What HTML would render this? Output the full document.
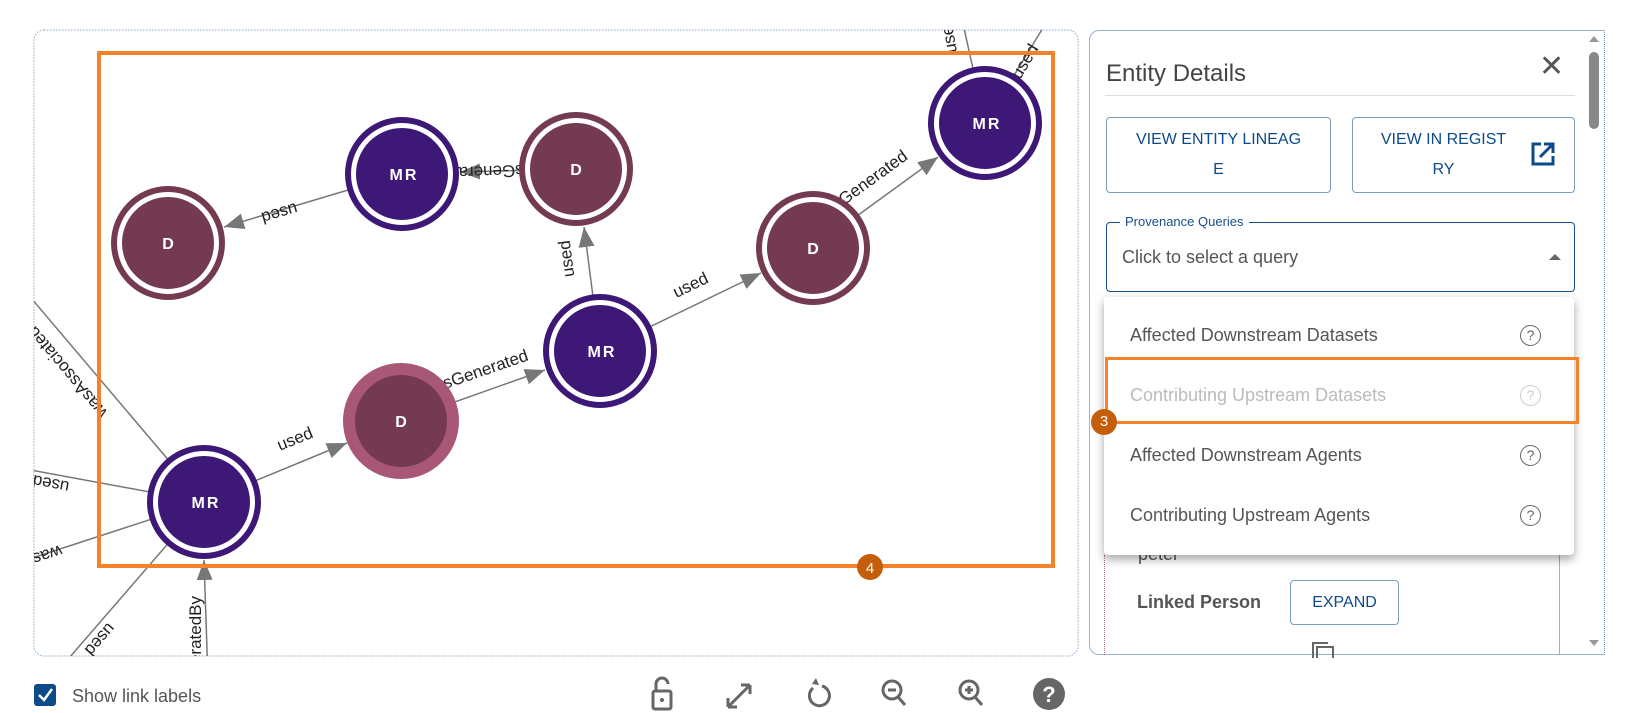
<!DOCTYPE html>
<html><head><meta charset="utf-8"><style>
body{margin:0;width:1626px;height:713px;background:#fff;font-family:"Liberation Sans",sans-serif;position:relative;overflow:hidden}
.abs{position:absolute}
.btn{position:absolute;border:1px solid #7a9cc0;border-radius:4px;color:#0d4a8a;font-size:16px;text-align:center;line-height:30px;box-sizing:border-box}
.item{position:absolute;left:1130px;font-size:18px;color:#555}
.q{position:absolute;left:1520px;width:19px;height:19px;border:1.8px solid #666;border-radius:50%;font-size:14px;line-height:19px;text-align:center;color:#666}
</style></head><body>
<svg class="abs" style="left:0;top:0" width="1090" height="713">
<defs>
<clipPath id="c"><rect x="34" y="30" width="1044" height="626" rx="10"/></clipPath>
<marker id="ar" markerUnits="userSpaceOnUse" markerWidth="22" markerHeight="18" refX="20" refY="8" orient="auto"><path d="M0,0 L20,8 L0,16 z" fill="#777"/></marker>
</defs>
<rect x="34" y="30" width="1044" height="626" rx="10" fill="#fff" stroke="#8aa8c8" stroke-dasharray="1.5 1.5"/>
<g clip-path="url(#c)" stroke="#777" stroke-width="1.5" fill="none">
<line x1="204" y1="502" x2="347" y2="443" marker-end="url(#ar)"/>
<line x1="401" y1="421" x2="545" y2="370" marker-end="url(#ar)"/>
<line x1="600" y1="351" x2="584" y2="227" marker-end="url(#ar)"/>
<line x1="600" y1="351" x2="761" y2="273" marker-end="url(#ar)"/>
<line x1="813" y1="248" x2="938" y2="157" marker-end="url(#ar)"/>
<line x1="576" y1="169" x2="460" y2="172" marker-end="url(#ar)"/>
<line x1="402" y1="174" x2="224" y2="227" marker-end="url(#ar)"/>
<line x1="208" y1="680" x2="204" y2="560" marker-end="url(#ar)"/>
<line x1="20" y1="285" x2="204" y2="502"/>
<line x1="20" y1="468" x2="204" y2="502"/>
<line x1="20" y1="562" x2="204" y2="502"/>
<line x1="50" y1="680" x2="204" y2="502"/>
<line x1="960" y1="10" x2="985" y2="123"/>
<line x1="1060" y1="0" x2="985" y2="123"/>
</g>
<g clip-path="url(#c)" font-family="Liberation Sans, sans-serif" font-size="17" fill="#222">
<text transform="translate(297,444) rotate(-22)" text-anchor="middle">used</text>
<text transform="translate(477,378) rotate(-19)" text-anchor="middle">wasGenerated</text>
<text transform="translate(572,258) rotate(-97.5)" text-anchor="middle">used</text>
<text transform="translate(693,290) rotate(-26)" text-anchor="middle">used</text>
<text transform="translate(864,191) rotate(-36)" text-anchor="middle">wasGenerated</text>
<text transform="translate(490,166) rotate(178)" text-anchor="middle">wasGenerated</text>
<text transform="translate(278,208) rotate(163.5)" text-anchor="middle">used</text>
<text transform="translate(108,412) rotate(-130)" text-anchor="start">wasAssociatedWith</text>
<text transform="translate(70,482) rotate(-169)" text-anchor="start">used</text>
<text transform="translate(60,545) rotate(162)" text-anchor="start">wasAssociatedWith</text>
<text transform="translate(108,622) rotate(131)" text-anchor="start">used</text>
<text transform="translate(201,596) rotate(-90)" text-anchor="end">wasGeneratedBy</text>
<text transform="translate(957,52) rotate(-100)" text-anchor="start">used</text>
<text transform="translate(1020,80) rotate(-59)" text-anchor="start">used</text>
</g>
<g font-family="Liberation Sans, sans-serif" font-weight="bold" font-size="16" fill="#fff" text-anchor="middle" letter-spacing="2">
<g><circle cx="985" cy="123" r="57" fill="#3d1877"/><circle cx="985" cy="123" r="48.5" fill="none" stroke="#fff" stroke-width="5"/><text x="987" y="129">MR</text></g>
<g><circle cx="402" cy="174" r="57" fill="#3d1877"/><circle cx="402" cy="174" r="48.5" fill="none" stroke="#fff" stroke-width="5"/><text x="404" y="180">MR</text></g>
<g><circle cx="600" cy="351" r="57" fill="#3d1877"/><circle cx="600" cy="351" r="48.5" fill="none" stroke="#fff" stroke-width="5"/><text x="602" y="357">MR</text></g>
<g><circle cx="204" cy="502" r="57" fill="#3d1877"/><circle cx="204" cy="502" r="48.5" fill="none" stroke="#fff" stroke-width="5"/><text x="206" y="508">MR</text></g>
<g><circle cx="576" cy="169" r="57" fill="#733a51"/><circle cx="576" cy="169" r="48.5" fill="none" stroke="#fff" stroke-width="5"/><text x="577" y="175">D</text></g>
<g><circle cx="168" cy="243" r="57" fill="#733a51"/><circle cx="168" cy="243" r="48.5" fill="none" stroke="#fff" stroke-width="5"/><text x="169" y="249">D</text></g>
<g><circle cx="813" cy="248" r="57" fill="#733a51"/><circle cx="813" cy="248" r="48.5" fill="none" stroke="#fff" stroke-width="5"/><text x="814" y="254">D</text></g>
<g><circle cx="401" cy="421" r="58" fill="#a85876"/><circle cx="401" cy="421" r="46" fill="#733a51"/><text x="402" y="427">D</text></g>
</g>
<rect x="99" y="53" width="954" height="513" fill="none" stroke="#f5822a" stroke-width="4"/>
<circle cx="870" cy="567" r="13" fill="#c45e0a"/>
<text x="870" y="573" font-family="Liberation Sans, sans-serif" font-size="15" fill="#fff" text-anchor="middle">4</text>
<rect x="34" y="684" width="22" height="22" rx="3" fill="#0d4a8a"/>
<path d="M39,695 L44,700 L52,689" stroke="#fff" stroke-width="2.5" fill="none"/>
<text x="72" y="702" font-family="Liberation Sans, sans-serif" font-size="18" fill="#555">Show link labels</text>
<g fill="none" stroke="#666" stroke-width="3">
<rect x="653" y="691" width="18" height="18" rx="2"/><path d="M656,691 v-7 a6,6 0 0 1 12,0"/>
<path d="M728,707 L750,685 M728,707 v-9 M728,707 h9 M750,685 v9 M750,685 h-9"/>
<path d="M822,686 a10,10 0 1 1 -9,2"/>
<circle cx="892" cy="690" r="9"/><path d="M898,697 l7,8 M888,690 h8"/>
<circle cx="969" cy="690" r="9"/><path d="M975,697 l7,8 M965,690 h8 M969,686 v8"/>
</g>
<path d="M812,684 l4,-6 l3,7 z" fill="#666"/>
<circle cx="662" cy="700" r="2" fill="#666"/>
<circle cx="1049" cy="694" r="16" fill="#666"/>
<text x="1049" y="702" font-family="Liberation Sans, sans-serif" font-weight="bold" font-size="22" fill="#fff" text-anchor="middle">?</text>
</svg>

<div class="abs" style="left:1089px;top:30px;width:516px;height:625px;border:1px solid #9ab4cc;border-right:1px dotted #6a8fb5;border-radius:10px 0 0 10px;box-sizing:border-box"></div>
<div class="abs" style="left:1106px;top:60px;font-size:24px;color:#444">Entity Details</div>
<div class="abs" style="left:1539px;top:52px;font-size:30px;color:#555;line-height:30px">✕</div>
<div class="abs" style="left:1105px;top:95px;width:470px;height:1px;background:#ddd"></div>
<div class="btn" style="left:1106px;top:117px;width:225px;height:76px;padding-top:7px">VIEW ENTITY LINEAG<br>E</div>
<div class="btn" style="left:1352px;top:117px;width:223px;height:76px;padding-top:7px;padding-right:40px">VIEW IN REGIST<br>RY</div>
<svg class="abs" style="left:1530px;top:141px" width="26" height="26"><path d="M11,3 H3 V23 H23 V15" stroke="#0d4a8a" stroke-width="3" fill="none"/><path d="M10,16 L23,3 M14,3 H23 V12" stroke="#0d4a8a" stroke-width="3" fill="none"/></svg>
<div class="abs" style="left:1106px;top:222px;width:469px;height:70px;border:1.5px solid #1b4d89;border-radius:4px;box-sizing:border-box"></div>
<div class="abs" style="left:1120px;top:214px;background:#fff;padding:0 5px;font-size:13px;color:#1b4d89">Provenance Queries</div>
<div class="abs" style="left:1122px;top:247px;font-size:18px;color:#555">Click to select a query</div>
<div class="abs" style="left:1549px;top:254px;width:0;height:0;border-left:6px solid transparent;border-right:6px solid transparent;border-bottom:6px solid #666"></div>
<div class="abs" style="left:1138px;top:544px;font-size:18px;color:#555">peter</div>
<div class="abs" style="left:1137px;top:592px;font-size:18px;color:#555;font-weight:bold">Linked Person</div>
<div class="btn" style="left:1290px;top:580px;width:109px;height:45px;line-height:43px">EXPAND</div>
<div class="abs" style="left:1312px;top:642px;width:14px;height:14px;border:2px solid #666;border-bottom:none;border-right:none"></div>
<div class="abs" style="left:1316px;top:646px;width:14px;height:10px;border:2px solid #666;border-bottom:none"></div>
<div class="abs" style="left:1104px;top:555px;width:0;height:100px;border-left:1px dotted #b07080"></div>
<div class="abs" style="left:1559px;top:555px;width:0;height:100px;border-left:1px solid #c8a0a8"></div>
<div class="abs" style="left:1104px;top:297px;width:470px;height:258px;background:#fff;border-radius:4px;box-shadow:0 5px 8px rgba(0,0,0,0.25),0 2px 14px rgba(0,0,0,0.12)"></div>
<div class="item" style="top:325px">Affected Downstream Datasets</div><div class="q" style="top:325px">?</div>
<div class="item" style="top:385px;color:#bbb">Contributing Upstream Datasets</div><div class="q" style="top:385px;border-color:#ccc;color:#ccc">?</div>
<div class="item" style="top:445px">Affected Downstream Agents</div><div class="q" style="top:445px">?</div>
<div class="item" style="top:505px">Contributing Upstream Agents</div><div class="q" style="top:505px">?</div>
<div class="abs" style="left:1105px;top:357px;width:474px;height:67px;border:3px solid #f5822a;box-sizing:border-box"></div>
<div class="abs" style="left:1091px;top:409px;width:26px;height:26px;border-radius:50%;background:#c45e0a;color:#fff;font-size:15px;text-align:center;line-height:26px">3</div>
<div class="abs" style="left:1589px;top:36px;width:0;height:0;border-left:5px solid transparent;border-right:5px solid transparent;border-bottom:6px solid #999"></div>
<div class="abs" style="left:1589px;top:52px;width:10px;height:77px;background:#888;border-radius:5px"></div>
<div class="abs" style="left:1589px;top:640px;width:0;height:0;border-left:5px solid transparent;border-right:5px solid transparent;border-top:6px solid #999"></div>
</body></html>
